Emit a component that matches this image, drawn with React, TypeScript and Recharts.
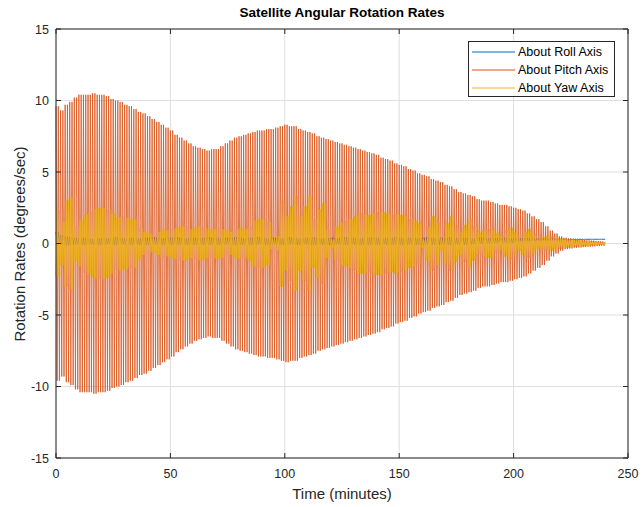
import React from 'react';
import { LineChart, Line, XAxis, YAxis, CartesianGrid, ReferenceLine, Legend } from 'recharts';

// Sample times in minutes (one half-cycle every 0.5 minute)
const TIMES: number[] = [];
for (let i = 0; i <= 480; i++) TIMES.push(i / 2);

const X_TICKS = [0, 50, 100, 150, 200, 250];
const Y_TICKS = [-15, -10, -5, 0, 5, 10, 15];

// Oscillation amplitude, one value per 2-minute block (t = 0, 2, ..., 240)
const PITCH_AMP = [
  9.6, 9.3, 9.7, 9.9, 10.2, 10.4, 10.4, 10.4, 10.5, 10.4,
  10.4, 10.3, 10.1, 10.0, 9.9, 9.7, 9.6, 9.4, 9.2, 9.1,
  8.9, 8.7, 8.5, 8.3, 8.1, 7.9, 7.6, 7.4, 7.2, 7.0,
  6.8, 6.7, 6.6, 6.5, 6.6, 6.6, 6.8, 7.0, 7.2, 7.4,
  7.5, 7.6, 7.7, 7.8, 7.9, 7.9, 8.0, 8.0, 8.1, 8.2,
  8.3, 8.2, 8.2, 8.0, 7.9, 7.8, 7.7, 7.5, 7.4, 7.3,
  7.2, 7.1, 7.0, 6.9, 6.8, 6.7, 6.6, 6.5, 6.4, 6.3,
  6.2, 6.0, 5.9, 5.8, 5.6, 5.5, 5.4, 5.2, 5.1, 4.9,
  4.8, 4.7, 4.5, 4.4, 4.3, 4.1, 4.0, 3.8, 3.6, 3.5,
  3.4, 3.3, 3.1, 3.0, 3.0, 2.9, 2.8, 2.7, 2.7, 2.6,
  2.5, 2.4, 2.3, 2.1, 1.9, 1.7, 1.5, 1.2, 0.9, 0.7,
  0.5, 0.4, 0.35, 0.3, 0.28, 0.25, 0.22, 0.2, 0.18, 0.15,
  0.1,
];

const YAW_AMP = [
  2.3, 1.5, 3.0, 3.2, 1.2, 1.6, 2.0, 2.2, 2.4, 2.5,
  2.5, 2.4, 2.1, 1.8, 1.9, 1.8, 1.7, 1.7, 1.1, 0.8,
  0.7, 0.6, 0.8, 1.0, 0.9, 1.0, 1.1, 1.2, 1.2, 1.0,
  1.1, 1.2, 1.15, 1.0, 1.0, 1.1, 1.0, 0.9, 0.8, 1.0,
  1.1, 1.0, 1.2, 1.6, 1.7, 1.7, 1.5, 0.4, 0.5, 3.0,
  1.9, 2.6, 3.3, 1.9, 2.6, 3.3, 1.7, 2.4, 2.8, 1.0,
  0.3, 1.2, 1.5, 1.6, 1.7, 1.9, 2.1, 2.1, 2.0, 2.1,
  2.2, 2.2, 2.1, 2.0, 2.1, 2.0, 1.9, 1.7, 1.6, 1.4,
  0.3, 1.2, 1.9, 1.5, 0.5, 1.4, 1.9, 1.3, 0.8, 1.3,
  1.7, 1.2, 0.75, 0.9, 1.0, 1.0, 0.7, 0.5, 0.9, 1.1,
  0.8, 0.5, 0.8, 1.0, 0.7, 0.35, 0.45, 0.55, 0.5, 0.4,
  0.35, 0.3, 0.28, 0.25, 0.23, 0.2, 0.18, 0.15, 0.12, 0.1,
  0.08,
];

const ROLL_HIGH = [
  0.8, 0.6, 0.5, 0.45, 0.4, 0.35, 0.4, 0.35, 0.3, 0.35,
  0.4, 0.35, 0.4, 0.45, 0.4, 0.35, 0.4, 0.4, 0.35, 0.4,
  0.4, 0.45, 0.4, 0.35, 0.4, 0.4, 0.45, 0.4, 0.35, 0.4,
  0.4, 0.35, 0.4, 0.45, 0.4, 0.4, 0.35, 0.4, 0.4, 0.45,
  0.4, 0.35, 0.4, 0.4, 0.45, 0.4, 0.35, 0.4, 0.4, 0.35,
  0.4, 0.45, 0.4, 0.35, 0.4, 0.4, 0.45, 0.4, 0.35, 0.4,
  0.4, 0.35, 0.4, 0.45, 0.4, 0.4, 0.35, 0.4, 0.4, 0.45,
  0.4, 0.35, 0.4, 0.4, 0.45, 0.4, 0.35, 0.4, 0.4, 0.35,
  0.4, 0.45, 0.4, 0.35, 0.4, 0.4, 0.45, 0.4, 0.35, 0.4,
  0.4, 0.35, 0.4, 0.4, 0.38, 0.4, 0.35, 0.38, 0.4, 0.36,
  0.38, 0.35, 0.36, 0.38, 0.35, 0.34, 0.35, 0.33, 0.34, 0.33,
  0.32, 0.32, 0.31, 0.31, 0.31, 0.3, 0.3, 0.3, 0.3, 0.3,
  0.3,
];

const ROLL_LOW = [
  0.1, -0.1, -0.15, -0.1, -0.05, -0.1, -0.1, -0.05, -0.1, -0.1,
  -0.1, -0.05, -0.1, -0.1, -0.05, -0.1, -0.1, -0.05, -0.1, -0.1,
  -0.1, -0.05, -0.1, -0.1, -0.05, -0.1, -0.1, -0.05, -0.1, -0.1,
  -0.1, -0.05, -0.1, -0.1, -0.05, -0.1, -0.1, -0.05, -0.1, -0.1,
  -0.1, -0.05, -0.1, -0.1, -0.05, -0.1, -0.1, -0.05, -0.1, -0.1,
  -0.1, -0.05, -0.1, -0.1, -0.05, -0.1, -0.1, -0.05, -0.1, -0.1,
  -0.1, -0.05, -0.1, -0.1, -0.05, -0.1, -0.1, -0.05, -0.1, -0.1,
  -0.1, -0.05, -0.1, -0.1, -0.05, -0.1, -0.1, -0.05, -0.1, -0.1,
  -0.1, -0.05, -0.1, -0.1, -0.05, -0.1, -0.1, -0.05, -0.1, -0.1,
  -0.05, -0.05, 0.0, -0.05, 0.0, 0.0, 0.05, 0.0, 0.05, 0.05,
  0.1, 0.1, 0.1, 0.15, 0.15, 0.2, 0.2, 0.2, 0.22, 0.24,
  0.25, 0.26, 0.27, 0.28, 0.28, 0.28, 0.29, 0.29, 0.29, 0.29,
  0.29,
];

const SERIES = [
  { key: 'roll', name: 'About Roll Axis', color: '#0072BD', width: 1 },
  { key: 'pitch', name: 'About Pitch Axis', color: '#D95319', width: 0.8 },
  { key: 'yaw', name: 'About Yaw Axis', color: '#EDB120', width: 1 },
];

const data = TIMES.map((t, i) => {
  const k = Math.floor(t / 2);
  const up = i % 2 === 0;
  return {
    t,
    roll: up ? ROLL_HIGH[k] : ROLL_LOW[k],
    pitch: up ? PITCH_AMP[k] : -PITCH_AMP[k],
    yaw: up ? -YAW_AMP[k] : YAW_AMP[k],
  };
});

const W = 642;
const H = 507;
const M = { top: 29, right: 14, bottom: 19, left: 6 };
const Y_AXIS_W = 50;
const X_AXIS_H = 30;
const PLOT_W = W - M.left - M.right - Y_AXIS_W;
const PLOT_H = H - M.top - M.bottom - X_AXIS_H;
const AXIS_COLOR = '#262626';
const FONT = '"Liberation Sans", Arial, Helvetica, sans-serif';

const XTick = (props: any) => {
  const { x, y, payload } = props;
  return (
    <g>
      <line x1={x} x2={x} y1={y} y2={y - 5} stroke={AXIS_COLOR} strokeWidth={1} />
      <line x1={x} x2={x} y1={y - PLOT_H} y2={y - PLOT_H + 5} stroke={AXIS_COLOR} strokeWidth={1} />
      <text x={x} y={y + 20} textAnchor="middle" fontSize={12.5} fill={AXIS_COLOR} fontFamily={FONT}>
        {payload.value}
      </text>
    </g>
  );
};

const YTick = (props: any) => {
  const { x, y, payload } = props;
  return (
    <g>
      <line x1={x} x2={x + 5} y1={y} y2={y} stroke={AXIS_COLOR} strokeWidth={1} />
      <line x1={x + PLOT_W} x2={x + PLOT_W - 5} y1={y} y2={y} stroke={AXIS_COLOR} strokeWidth={1} />
      <text x={x - 7} y={y + 4.5} textAnchor="end" fontSize={12.5} fill={AXIS_COLOR} fontFamily={FONT}>
        {payload.value}
      </text>
    </g>
  );
};

const renderLegend = () => (
  <div
    style={{
      boxSizing: 'border-box',
      width: 147,
      height: 56,
      border: '1px solid #262626',
      background: '#ffffff',
      paddingTop: 1,
      fontFamily: FONT,
    }}
  >
    {SERIES.map((s) => (
      <div key={s.key} style={{ display: 'flex', alignItems: 'center', height: 18 }}>
        <svg width={46} height={4} style={{ display: 'block' }}>
          <line x1={3} x2={46} y1={2} y2={2} stroke={s.color} strokeWidth={1.2} />
        </svg>
        <span style={{ marginLeft: 3, fontSize: 12.5, color: '#000', whiteSpace: 'nowrap', lineHeight: '14px' }}>{s.name}</span>
      </div>
    ))}
  </div>
);

export default function App() {
  return (
    <div style={{ position: 'absolute', left: 0, top: 0, width: W, height: H, background: '#fff' }}>
      <LineChart width={W} height={H} data={data} margin={M}>
        <CartesianGrid stroke="#dfdfdf" strokeWidth={1} />
        <XAxis
          dataKey="t"
          type="number"
          domain={[0, 250]}
          ticks={X_TICKS}
          height={X_AXIS_H}
          tickSize={0}
          tickMargin={0}
          tickLine={false}
          axisLine={{ stroke: AXIS_COLOR }}
          tick={(p: any) => <XTick {...p} />}
        />
        <YAxis
          type="number"
          domain={[-15, 15]}
          ticks={Y_TICKS}
          width={Y_AXIS_W}
          tickSize={0}
          tickMargin={0}
          tickLine={false}
          axisLine={{ stroke: AXIS_COLOR }}
          tick={(p: any) => <YTick {...p} />}
        />
        <ReferenceLine y={15} stroke={AXIS_COLOR} strokeWidth={1} />
        <ReferenceLine x={250} stroke={AXIS_COLOR} strokeWidth={1} />
        {SERIES.map((s) => (
          <Line
            key={s.key}
            dataKey={s.key}
            name={s.name}
            stroke={s.color}
            strokeWidth={s.width}
            dot={false}
            isAnimationActive={false}
          />
        ))}
        <Legend
          layout="vertical"
          align="center"
          verticalAlign="middle"
          content={renderLegend}
          wrapperStyle={{ position: 'absolute', left: 468, top: 41, width: 147, height: 56 }}
        />
      </LineChart>
      <div
        style={{
          position: 'absolute',
          left: M.left + Y_AXIS_W,
          width: PLOT_W,
          top: 5,
          textAlign: 'center',
          fontFamily: FONT,
          fontWeight: 'bold',
          fontSize: 13.5,
          color: '#000',
          lineHeight: '16px',
        }}
      >
        Satellite Angular Rotation Rates
      </div>
      <div
        style={{
          position: 'absolute',
          left: M.left + Y_AXIS_W,
          width: PLOT_W,
          top: 485,
          textAlign: 'center',
          fontFamily: FONT,
          fontSize: 15,
          color: AXIS_COLOR,
          lineHeight: '18px',
        }}
      >
        Time (minutes)
      </div>
      <div
        style={{
          position: 'absolute',
          left: 20 - 150,
          top: 244 - 9,
          width: 300,
          textAlign: 'center',
          transform: 'rotate(-90deg)',
          transformOrigin: '150px 9px',
          fontFamily: FONT,
          fontSize: 15,
          color: AXIS_COLOR,
          lineHeight: '18px',
        }}
      >
        Rotation Rates (degrees/sec)
      </div>
    </div>
  );
}
